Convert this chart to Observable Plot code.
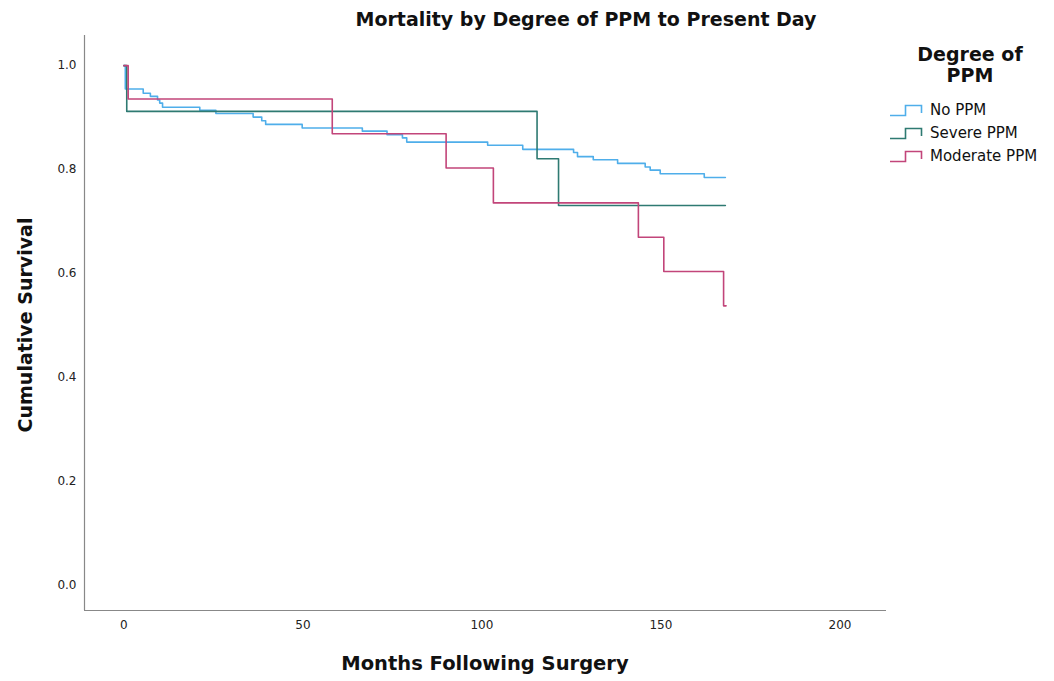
<!DOCTYPE html>
<html>
<head>
<meta charset="utf-8">
<script src="https://cdn.jsdelivr.net/npm/d3@7"></script>
<script src="https://cdn.jsdelivr.net/npm/@observablehq/plot@0.6"></script>
<style>
  html, body { margin: 0; padding: 0; background: #fff; }
  #wrap { position: relative; width: 1054px; height: 681px; font-family: "DejaVu Sans", sans-serif; }
  .abs { position: absolute; white-space: nowrap; color: #111; }
  #title { left: 0; width: 1172px; top: 8px; text-align: center; font: bold 19px "DejaVu Sans", sans-serif; }
  #xlabel { left: 84px; width: 802px; top: 652px; text-align: center; font: bold 19.5px "DejaVu Sans", sans-serif; }
  #ylabel { left: 25px; top: 325px; transform: translate(-50%, -50%) rotate(-90deg); font: bold 19px "DejaVu Sans", sans-serif; }
  #legtitle { left: 890px; width: 160px; top: 44px; text-align: center; font: bold 19px/21px "DejaVu Sans", sans-serif; }
  .legitem { left: 888px; font: 15px "DejaVu Sans", sans-serif; display: flex; align-items: center; }
  .legitem svg { margin-right: 6px; }
</style>
</head>
<body>
<div id="wrap"></div>
<script>
const seriesNames = ["No PPM", "Severe PPM", "Moderate PPM"];
const seriesColors = ["#4faeea", "#2e7a72", "#c2457a"];

const noPPMMonths = [0, 0.4, 5.4, 7.4, 9.4, 10.0, 10.8, 21.2, 25.7, 36.1, 38.5, 39.6, 49.8, 66.6, 73.5, 77.8, 79.0, 101.6, 111.4, 125.6, 126.7, 131.1, 137.9, 145.6, 147.0, 149.8, 162.1, 168.0];
const noPPMSurv   = [1.0, 0.955, 0.947, 0.941, 0.934, 0.928, 0.920, 0.914, 0.908, 0.901, 0.894, 0.887, 0.880, 0.874, 0.867, 0.861, 0.853, 0.847, 0.839, 0.833, 0.825, 0.819, 0.812, 0.805, 0.799, 0.792, 0.785, 0.785];

const severeMonths = [0, 0.8, 115.4, 121.4, 168.0];
const severeSurv   = [1.0, 0.912, 0.821, 0.731, 0.731];

const moderateMonths = [0, 1.2, 58.2, 90.0, 103.2, 143.7, 150.8, 167.5, 168.2];
const moderateSurv   = [1.0, 0.936, 0.869, 0.803, 0.736, 0.670, 0.604, 0.538, 0.538];

const xTicks = [0, 50, 100, 150, 200];
const yTicks = [0.0, 0.2, 0.4, 0.6, 0.8, 1.0];

const data = [];
[[noPPMMonths, noPPMSurv], [severeMonths, severeSurv], [moderateMonths, moderateSurv]].forEach(([m, s], i) => {
  m.forEach((t, j) => data.push({series: seriesNames[i], month: t, surv: s[j]}));
});

const chart = Plot.plot({
  width: 1054,
  height: 681,
  marginLeft: 84,
  marginRight: 168,
  marginTop: 35,
  marginBottom: 71,
  style: {fontFamily: "DejaVu Sans, sans-serif", fontSize: "12px", color: "#222", background: "#fff"},
  x: {domain: [-11, 213], label: null},
  y: {domain: [-0.048, 1.058], label: null},
  color: {domain: seriesNames, range: seriesColors},
  marks: [
    Plot.axisX({ticks: xTicks, tickSize: 0, tickPadding: 10, tickFormat: d3.format("d"), label: null, fontSize: 12}),
    Plot.axisY({ticks: yTicks, tickSize: 0, tickPadding: 8, tickFormat: d3.format(".1f"), label: null, fontSize: 12}),
    Plot.ruleX([-11], {stroke: "#888", strokeWidth: 1.2}),
    Plot.ruleY([-0.048], {stroke: "#888", strokeWidth: 1.2}),
    Plot.line(data, {x: "month", y: "surv", z: "series", stroke: "series", curve: "step-after", strokeWidth: 1.6})
  ]
});

const wrap = document.getElementById("wrap");
chart.style.position = "absolute";
chart.style.left = "0px";
chart.style.top = "0px";
wrap.appendChild(chart);

function addDiv(id, cls, text, style) {
  const d = document.createElement("div");
  if (id) d.id = id;
  d.className = "abs " + (cls || "");
  d.textContent = text;
  if (style) Object.assign(d.style, style);
  wrap.appendChild(d);
  return d;
}
addDiv("title", "", "Mortality by Degree of PPM to Present Day");
addDiv("xlabel", "", "Months Following Surgery");
addDiv("ylabel", "", "Cumulative Survival");
const lt = addDiv("legtitle", "", "");
lt.innerHTML = "Degree of<br>PPM";

const legTops = [101, 124, 147];
seriesNames.forEach((name, i) => {
  const d = document.createElement("div");
  d.className = "abs legitem";
  d.style.top = legTops[i] + "px";
  const ns = "http://www.w3.org/2000/svg";
  const svg = document.createElementNS(ns, "svg");
  svg.setAttribute("width", "36");
  svg.setAttribute("height", "16");
  const p = document.createElementNS(ns, "path");
  p.setAttribute("d", "M2,13.5 H17.5 V3.5 H33.5 V11");
  p.setAttribute("fill", "none");
  p.setAttribute("stroke", seriesColors[i]);
  p.setAttribute("stroke-width", "1.6");
  svg.appendChild(p);
  d.appendChild(svg);
  const s = document.createElement("span");
  s.textContent = name;
  d.appendChild(s);
  wrap.appendChild(d);
});
</script>
</body>
</html>
